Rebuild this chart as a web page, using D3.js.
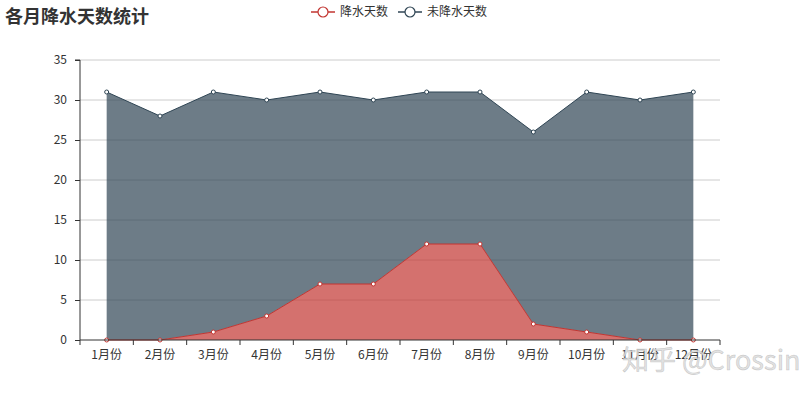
<!DOCTYPE html>
<html>
<head>
<meta charset="utf-8">
<script src="https://cdn.jsdelivr.net/npm/d3@7"></script>
<style>
  body { margin: 0; background: #fff; }
  svg text { font-family: "Noto Sans CJK SC", "Noto Sans", sans-serif; }
</style>
</head>
<body>
<svg id="chart" width="800" height="400"></svg>
<script>
// months, rainy days, non-rainy days (stacked: total = days in month)
var months = ["1月份", "2月份", "3月份", "4月份", "5月份", "6月份", "7月份", "8月份", "9月份", "10月份", "11月份", "12月份"];
var rainDays = [0, 0, 1, 3, 7, 7, 12, 12, 2, 1, 0, 0];
var dryDays = [31, 28, 30, 27, 24, 23, 19, 19, 24, 30, 30, 31];
var seriesNames = ["降水天数", "未降水天数"];
var yTicks = [0, 5, 10, 15, 20, 25, 30, 35];

var colors = ["#c23531", "#2f4554"];
var svg = d3.select("#chart");
// note: "top" is taken by window.top, so use other names
var gLeft = 80, gRight = 720, gTop = 60, gBottom = 340;

var x = d3.scaleBand().domain(months).range([gLeft, gRight]);
var y = d3.scaleLinear().domain([0, 35]).range([gBottom, gTop]);
var cx = function (i) { return x(months[i]) + x.bandwidth() / 2; };

// title
svg.append("text").attr("x", 5).attr("y", 23)
    .attr("font-size", 18).attr("font-weight", "bold").attr("fill", "#333")
    .text("各月降水天数统计");

// grid
svg.append("g").selectAll("line").data(yTicks.slice(1)).join("line")
    .attr("x1", gLeft).attr("x2", gRight)
    .attr("y1", function (d) { return y(d); }).attr("y2", function (d) { return y(d); })
    .attr("stroke", "#ccc").attr("stroke-width", 1);

// stacked data
var stackData = months.map(function (m, i) { return { i: i, rain: rainDays[i], dry: dryDays[i] }; });
var stacked = d3.stack().keys(["rain", "dry"])(stackData);

var area = d3.area()
    .x(function (d) { return cx(d.data.i); })
    .y0(function (d) { return y(d[0]); })
    .y1(function (d) { return y(d[1]); });
var line = d3.line()
    .x(function (d) { return cx(d.data.i); })
    .y(function (d) { return y(d[1]); });

stacked.forEach(function (s, k) {
    svg.append("path").datum(s).attr("d", area)
        .attr("fill", colors[k]).attr("fill-opacity", 0.7);
});
stacked.forEach(function (s, k) {
    svg.append("path").datum(s).attr("d", line)
        .attr("fill", "none").attr("stroke", colors[k]).attr("stroke-width", 1);
    svg.append("g").selectAll("circle").data(s).join("circle")
        .attr("cx", function (d) { return cx(d.data.i); })
        .attr("cy", function (d) { return y(d[1]); })
        .attr("r", 2).attr("fill", "#fff")
        .attr("stroke", colors[k]).attr("stroke-width", 1);
});

// axes
var yAxis = svg.append("g").attr("transform", "translate(" + gLeft + ",0)")
    .call(d3.axisLeft(y).tickValues(yTicks).tickSize(5).tickPadding(8));
var xAxis = svg.append("g").attr("transform", "translate(0," + gBottom + ")")
    .call(d3.axisBottom(x).tickSize(0).tickPadding(10));
// ticks at band boundaries
svg.append("g").selectAll("line").data(d3.range(months.length + 1)).join("line")
    .attr("x1", function (i) { return gLeft + i * x.bandwidth(); })
    .attr("x2", function (i) { return gLeft + i * x.bandwidth(); })
    .attr("y1", gBottom).attr("y2", gBottom + 5)
    .attr("stroke", "#333");
[yAxis, xAxis].forEach(function (a) {
    a.select(".domain").attr("stroke", "#333");
    a.selectAll(".tick line").attr("stroke", "#333");
    a.selectAll("text").attr("font-size", 12).attr("fill", "#333");
});
yAxis.select(".domain").attr("d", "M0," + gBottom + "V" + gTop + "H-5");
xAxis.select(".domain").attr("d", "M" + gLeft + ",0H" + gRight);

// legend
var legendX = [311, 398];
seriesNames.forEach(function (n, k) {
    var g = svg.append("g").attr("transform", "translate(" + legendX[k] + ",12)");
    g.append("line").attr("x1", 0).attr("x2", 24).attr("y1", 0).attr("y2", 0)
        .attr("stroke", colors[k]).attr("stroke-width", 1.5);
    g.append("circle").attr("cx", 12).attr("cy", 0).attr("r", 5)
        .attr("fill", "#fff").attr("stroke", colors[k]).attr("stroke-width", 1.2);
    g.append("text").attr("x", 29).attr("y", 4).attr("font-size", 12).attr("fill", "#333").text(n);
});

// watermark
svg.append("text").attr("x", 622).attr("y", 370)
    .attr("font-size", 27).attr("fill", "#ddd").attr("fill-opacity", 0.85)
    .attr("stroke", "#999").attr("stroke-width", 0.5).attr("stroke-opacity", 0.5)
    .text("知乎 @Crossin");
</script>
</body>
</html>
